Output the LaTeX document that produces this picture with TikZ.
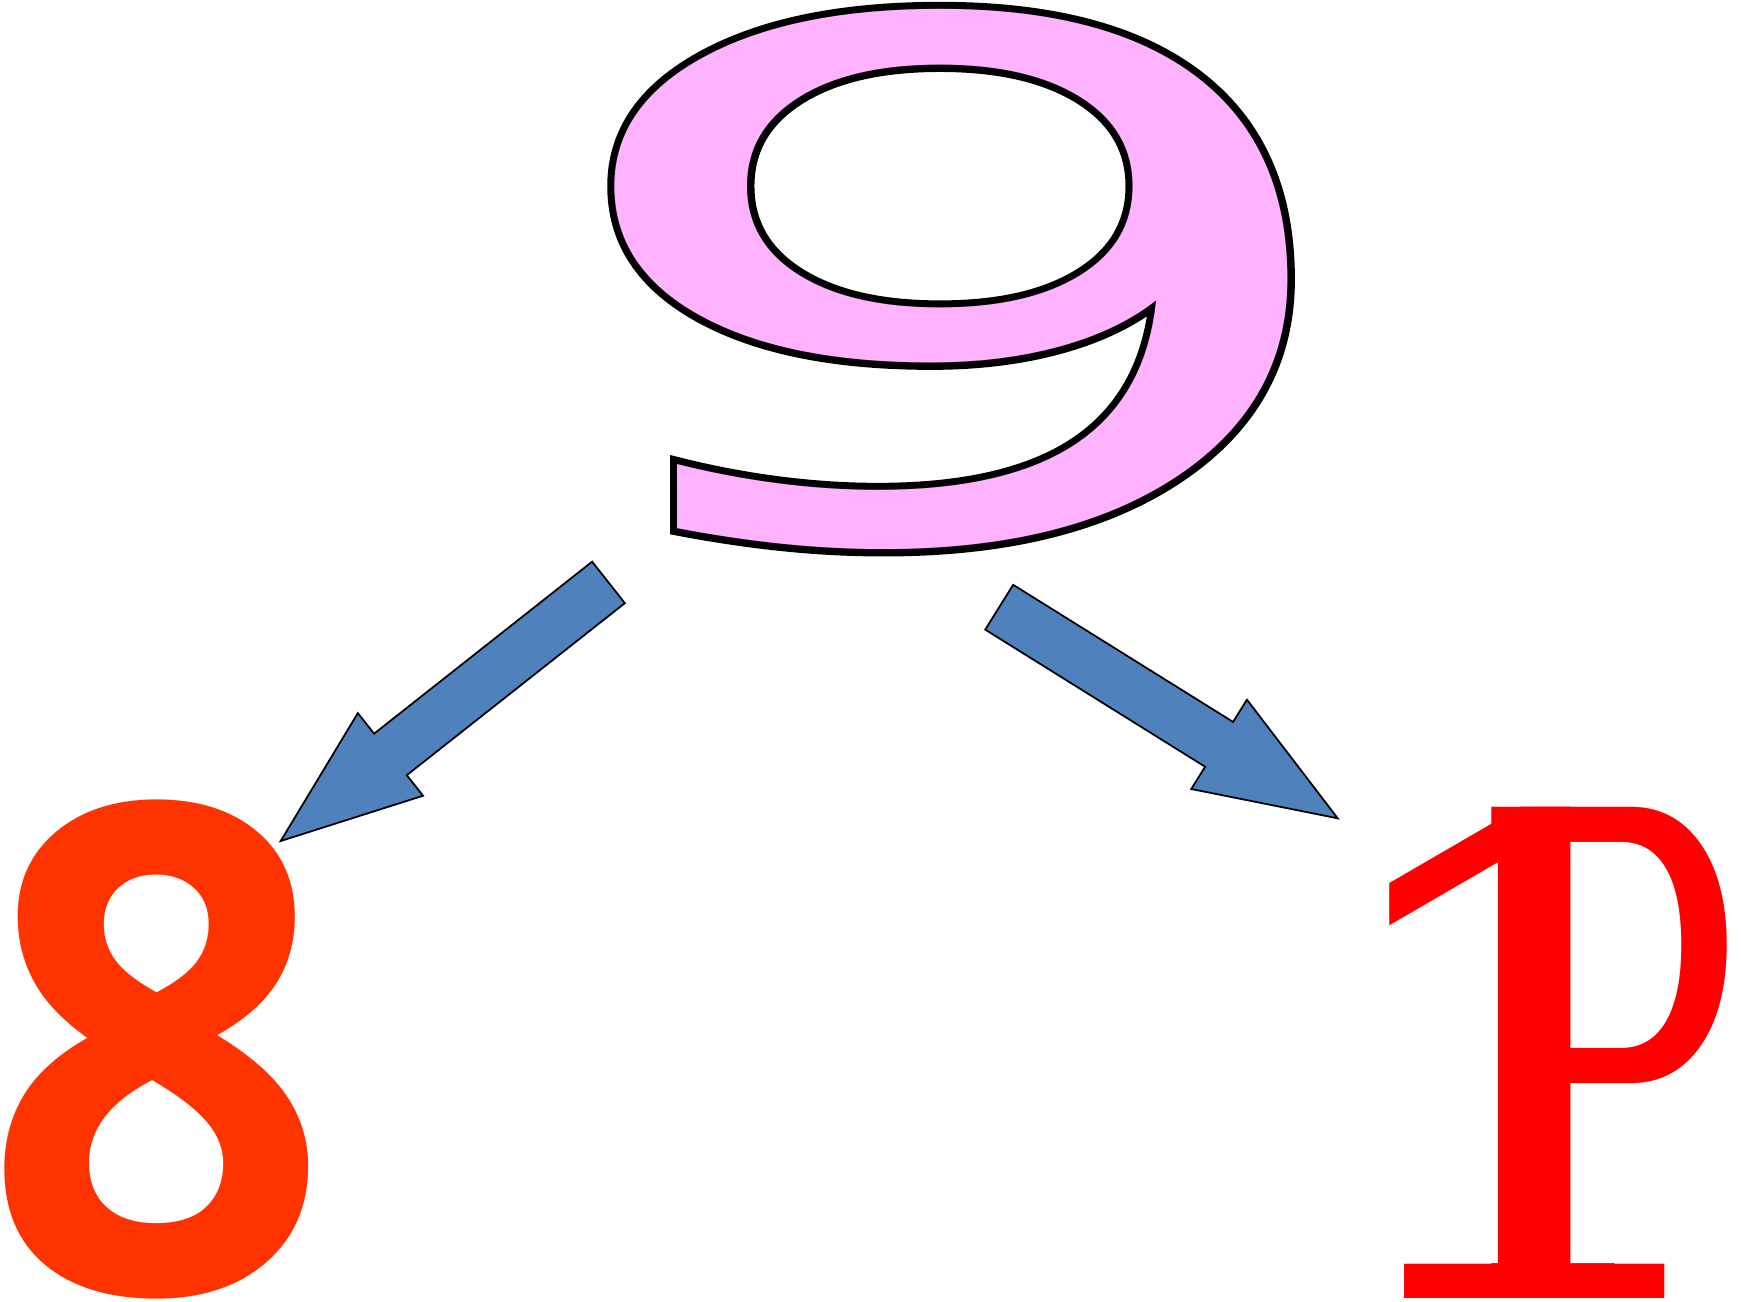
\documentclass[tikz,border=0pt]{standalone}
\usepackage{fontspec}
\usepackage{graphicx}
\usetikzlibrary{calc}

\newfontfamily\ninefont{DejaVu Sans}[FakeStretch=1.85]
\newfontfamily\nineedge{DejaVu Sans}[FakeStretch=1.85,FakeBold=2]
\newfontfamily\eightfont{Open Sans}
\newfontfamily\onefont{DejaVu Serif}

\definecolor{ninepink}{HTML}{FFB3FF}
\definecolor{eightred}{HTML}{FF3300}
\definecolor{onered}{HTML}{FF0000}
\definecolor{arrowblue}{HTML}{4F81BD}

% block arrow from tail (#1) to tip (#2)
\newcommand{\blockarrow}[2]{%
  \path ($(#2)!1.397cm!(#1)$) coordinate (hb);
  \draw[blockarr] ($(#1)!0.264cm!90:(#2)$) -- ($(hb)!0.264cm!90:(#2)$)
    -- ($(hb)!0.526cm!90:(#2)$) -- (#2) -- ($(hb)!0.526cm!-90:(#2)$)
    -- ($(hb)!0.264cm!-90:(#2)$) -- ($(#1)!0.264cm!-90:(#2)$) -- cycle;}

\begin{document}
\begin{tikzpicture}[
  x=0.01cm, y=-0.01cm,
  glyph/.style={inner sep=0pt, anchor=south},
  blockarr/.style={draw=black, line width=0.5pt, fill=arrowblue, line join=miter}
]
\useasboundingbox (0,0) rectangle (1741,1302);

% the digits
\node[glyph, text=black] (nineedge) at (956,550)
  {\resizebox*{8.51cm}{5.4cm}{\fontsize{200pt}{200pt}\nineedge 9}};
\node[glyph, text=ninepink] (nine) at (956,550)
  {\resizebox*{8.51cm}{5.4cm}{\fontsize{200pt}{200pt}\ninefont 9}};
\node[glyph, text=eightred] (eight) at (157,1300)
  {\resizebox*{3.46cm}{4.99cm}{\fontsize{200pt}{200pt}\eightfont\bfseries 8}};
\node[glyph, text=onered] (one) at (1535,1299)
  {\resizebox*{4.7cm}{4.91cm}{\fontsize{200pt}{200pt}\onefont 1}};
\node[glyph, text=onered, anchor=south west] (pee) at (1469,1299)
  {\resizebox*{2.72cm}{4.91cm}{\fontsize{200pt}{200pt}\onefont P}};

% arrow ends
\coordinate (nineL) at (608.5,582.4);
\coordinate (eightT) at (280.7,841);
\coordinate (nineR) at (999.2,607.2);
\coordinate (oneT) at (1337.7,818.3);

\blockarrow{nineL}{eightT}
\blockarrow{nineR}{oneT}
\end{tikzpicture}
\end{document}
